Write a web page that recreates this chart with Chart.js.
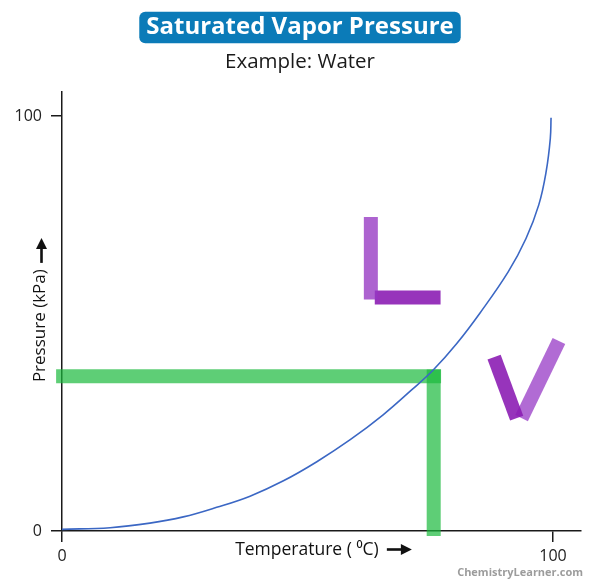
<!DOCTYPE html>
<html>
<head>
<meta charset="utf-8">
<title>Saturated Vapor Pressure</title>
<script src="https://cdn.jsdelivr.net/npm/chart.js@4.4.1/dist/chart.umd.min.js"></script>
<style>
    html, body { margin: 0; padding: 0; background: #fff; }
    #wrap { width: 600px; height: 587px; }
</style>
</head>
<body>
<div id="wrap"><canvas id="vaporChart" width="600" height="587"></canvas></div>
<script>
// curve: temperature (°C) vs pressure (kPa)
const temperature = [0, 9.8, 17.9, 24.7, 31.5, 38.3, 45.1, 51.9, 58.7, 65.4, 71.2, 75.6, 80.4, 85.1, 90.9, 94.5, 97.1, 98.6, 99.45, 99.6];
const pressure = [0.4, 0.8, 1.9, 3.4, 5.7, 8.4, 12.1, 16.7, 22.0, 28.0, 34.0, 38.8, 45.2, 52.5, 62.5, 70.5, 78.6, 86.6, 94.6, 99.6];
const tickValues = [0, 100];

// marker strokes as [temperature, pressure] pairs
const greenAcross = [[-1.2, 37.3], [77.2, 37.3]];
const greenDown = [[75.7, 38.9], [75.7, -1.2]];
const letterLStem = [[62.9, 75.7], [62.9, 55.8]];
const letterLFoot = [[63.7, 56.3], [77.1, 56.3]];
const letterVLeft = [[88.0, 41.9], [92.6, 27.2]];
const letterVRight = [[101.2, 45.8], [93.6, 27.2]];

const FONT = '"Open Sans", "DejaVu Sans", sans-serif';
const ARROW_GAP = '\u2003\u2002\u2009'; // room for the drawn arrow after each axis title

function toPoints(pairs) {
    return pairs.map(p => ({ x: p[0], y: p[1] }));
}

function stroke(pairs, color) {
    return {
        data: toPoints(pairs),
        borderColor: color,
        borderWidth: 14,
        borderCapStyle: 'butt',
        pointRadius: 0,
        clip: false,
        order: 2
    };
}

// rounded blue box behind the main title
const titleBadge = {
    id: 'titleBadge',
    beforeDraw(chart) {
        const ctx = chart.ctx;
        const t = chart.options.plugins.title;
        ctx.save();
        ctx.font = Chart.helpers.toFont(t.font).string;
        const w = ctx.measureText(t.text).width;
        ctx.fillStyle = '#0b7bb8';
        ctx.beginPath();
        ctx.roundRect(300 - w / 2 - 7, 11.7, w + 14, 31.6, 6);
        ctx.fill();
        ctx.restore();
    }
};

function drawArrow(ctx, x0, y0, x1, y1) {
    const ang = Math.atan2(y1 - y0, x1 - x0);
    const len = Math.hypot(x1 - x0, y1 - y0);
    ctx.save();
    ctx.translate(x0, y0);
    ctx.rotate(ang);
    ctx.fillStyle = '#111';
    ctx.fillRect(0, -1.3, len - 9, 2.6);
    ctx.beginPath();
    ctx.moveTo(len, 0);
    ctx.lineTo(len - 11, -5.5);
    ctx.lineTo(len - 11, 5.5);
    ctx.closePath();
    ctx.fill();
    ctx.restore();
}

// arrows after the axis titles, plus the site credit
const decorations = {
    id: 'decorations',
    afterDraw(chart) {
        const ctx = chart.ctx;
        const xs = chart.scales.x, ys = chart.scales.y;

        ctx.save();
        ctx.font = Chart.helpers.toFont(xs.options.title.font).string;
        const wx = ctx.measureText(xs.options.title.text).width;
        const cx = (xs.left + xs.right) / 2;
        const endX = cx + wx / 2 + 4;
        drawArrow(ctx, endX - 25, 549.5, endX, 549.5);

        ctx.font = Chart.helpers.toFont(ys.options.title.font).string;
        const wy = ctx.measureText(ys.options.title.text).width;
        const cy = (ys.top + ys.bottom) / 2;
        const endY = cy - wy / 2 - 3;
        drawArrow(ctx, 41.5, endY + 25, 41.5, endY);

        ctx.font = 'bold 11px ' + FONT;
        ctx.fillStyle = '#9c9c9c';
        ctx.textAlign = 'right';
        ctx.textBaseline = 'middle';
        ctx.fillText('ChemistryLearner.com', 583, 573);
        ctx.restore();
    }
};

const curvePoints = temperature.map((t, i) => ({ x: t, y: pressure[i] }));

new Chart(document.getElementById('vaporChart').getContext('2d'), {
    type: 'line',
    data: {
        datasets: [
            {
                data: curvePoints,
                borderColor: '#3b67c4',
                borderWidth: 1.6,
                pointRadius: 0,
                tension: 0.4,
                fill: false,
                order: 0
            },
            stroke(greenAcross, 'rgba(25, 185, 60, 0.7)'),
            stroke(greenDown, 'rgba(25, 185, 60, 0.7)'),
            stroke(letterLStem, 'rgba(150, 55, 195, 0.78)'),
            stroke(letterLFoot, 'rgba(140, 30, 180, 0.9)'),
            stroke(letterVLeft, 'rgba(140, 30, 180, 0.9)'),
            stroke(letterVRight, 'rgba(155, 65, 200, 0.78)')
        ]
    },
    options: {
        responsive: false,
        animation: false,
        layout: {
            padding: 0
        },
        plugins: {
            legend: { display: false },
            tooltip: { enabled: false },
            title: {
                display: true,
                text: 'Saturated Vapor Pressure',
                color: '#ffffff',
                font: { family: FONT, size: 24, weight: 'bold' },
                padding: { top: 13.1, bottom: 7.5 }
            },
            subtitle: {
                display: true,
                text: 'Example: Water',
                color: '#1a1a1a',
                font: { family: FONT, size: 20.5 },
                padding: { top: 0, bottom: 18 }
            }
        },
        scales: {
            x: {
                type: 'linear',
                min: 0,
                max: 105.7,
                afterBuildTicks: s => { s.ticks = tickValues.map(v => ({ value: v })); },
                afterFit: s => { s.height = 56; },
                grid: { drawOnChartArea: false, tickLength: 11, color: '#1a1a1a', lineWidth: 1.5 },
                border: { color: '#1a1a1a', width: 1.5 },
                ticks: { padding: 5, color: '#222', maxRotation: 0, font: { family: FONT, size: 16 } },
                title: {
                    display: true,
                    text: 'Temperature ( \u2070C)' + ARROW_GAP,
                    color: '#111',
                    font: { family: FONT, size: 17.5 },
                    padding: { top: 0, bottom: 26.9 }
                }
            },
            y: {
                type: 'linear',
                min: 0,
                max: 105.8,
                afterBuildTicks: s => { s.ticks = tickValues.map(v => ({ value: v })); },
                afterFit: s => { s.width = 62; },
                grid: { drawOnChartArea: false, tickLength: 11, color: '#1a1a1a', lineWidth: 1.5 },
                border: { color: '#1a1a1a', width: 1.5 },
                ticks: { padding: 9, color: '#222', font: { family: FONT, size: 16 } },
                title: {
                    display: true,
                    text: 'Pressure (kPa)' + ARROW_GAP,
                    color: '#111',
                    font: { family: FONT, size: 17 },
                    padding: { top: 29.8, bottom: 0 }
                }
            },
            // empty strip on the right so the plot stops short of the edge
            rightGap: {
                type: 'linear',
                position: 'right',
                display: true,
                afterFit: s => { s.width = 19; },
                grid: { display: false },
                border: { display: false },
                ticks: { display: false }
            }
        }
    },
    plugins: [titleBadge, decorations]
});
</script>
</body>
</html>
